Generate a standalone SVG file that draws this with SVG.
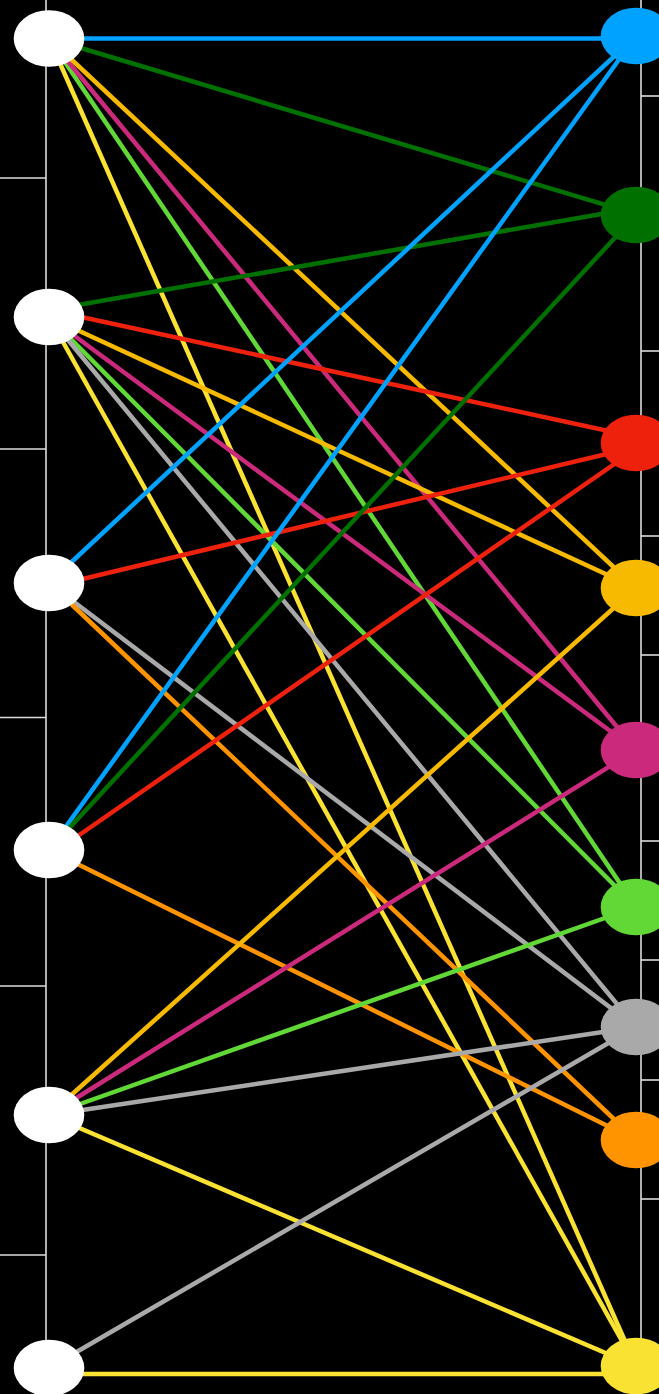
<svg xmlns="http://www.w3.org/2000/svg" width="659" height="1394" viewBox="0 0 659 1394">
<style>
.axis{stroke:#dcdcdc;stroke-width:1.6;fill:none}
.e{stroke-width:4.5;fill:none}
.blue{stroke:#00a2ff}.dgreen{stroke:#007100}.red{stroke:#ee220c}.gold{stroke:#f8ba00}.mag{stroke:#cb297b}.lime{stroke:#61d836}.gray{stroke:#a9a9a9}.orange{stroke:#ff9300}.yellow{stroke:#fae232}
</style>
<rect x="0" y="0" width="659" height="1394" fill="#000"/>
<g id="axes">
<line class="axis" x1="46" y1="0" x2="46" y2="1394"/>
<line class="axis" x1="0" y1="178" x2="46" y2="178"/>
<line class="axis" x1="0" y1="449" x2="46" y2="449"/>
<line class="axis" x1="0" y1="717.5" x2="46" y2="717.5"/>
<line class="axis" x1="0" y1="986" x2="46" y2="986"/>
<line class="axis" x1="0" y1="1255" x2="46" y2="1255"/>
<line class="axis" x1="641" y1="0" x2="641" y2="1394"/>
<line class="axis" x1="641" y1="96" x2="659" y2="96"/>
<line class="axis" x1="641" y1="351" x2="659" y2="351"/>
<line class="axis" x1="641" y1="536" x2="659" y2="536"/>
<line class="axis" x1="641" y1="655" x2="659" y2="655"/>
<line class="axis" x1="641" y1="841" x2="659" y2="841"/>
<line class="axis" x1="641" y1="960" x2="659" y2="960"/>
<line class="axis" x1="641" y1="1080" x2="659" y2="1080"/>
<line class="axis" x1="641" y1="1199" x2="659" y2="1199"/>
</g>
<g id="connectors">
<line class="e blue" x1="49" y1="38.5" x2="636" y2="38.5"/>
<line class="e dgreen" x1="49" y1="38.5" x2="636" y2="214"/>
<line class="e yellow" x1="49" y1="38.5" x2="636" y2="1366"/>
<line class="e lime" x1="49" y1="38.5" x2="636" y2="907"/>
<line class="e mag" x1="49" y1="38.5" x2="636" y2="750"/>
<line class="e gold" x1="49" y1="38.5" x2="636" y2="588"/>
<line class="e dgreen" x1="49" y1="310" x2="636" y2="208"/>
<line class="e red" x1="49" y1="310" x2="636" y2="437"/>
<line class="e gold" x1="49" y1="317" x2="636" y2="588"/>
<line class="e mag" x1="49" y1="317" x2="636" y2="750"/>
<line class="e lime" x1="49" y1="317" x2="636" y2="907"/>
<line class="e gray" x1="49" y1="317" x2="636" y2="1027"/>
<line class="e yellow" x1="49" y1="317" x2="636" y2="1366"/>
<line class="e blue" x1="49" y1="583" x2="636" y2="36"/>
<line class="e red" x1="49" y1="587" x2="636" y2="447"/>
<line class="e gray" x1="49" y1="583" x2="636" y2="1027"/>
<line class="e orange" x1="49" y1="583" x2="636" y2="1140"/>
<line class="e blue" x1="49" y1="850" x2="636" y2="36"/>
<line class="e dgreen" x1="49" y1="850" x2="636" y2="215"/>
<line class="e red" x1="49" y1="856" x2="636" y2="449"/>
<line class="e orange" x1="49" y1="850" x2="636" y2="1140"/>
<line class="e gold" x1="49" y1="1115" x2="636" y2="588"/>
<line class="e mag" x1="49" y1="1115" x2="636" y2="750"/>
<line class="e lime" x1="49" y1="1115" x2="636" y2="907"/>
<line class="e gray" x1="49" y1="1115" x2="636" y2="1027"/>
<line class="e yellow" x1="49" y1="1115" x2="636" y2="1366"/>
<line class="e gray" x1="49" y1="1368" x2="636" y2="1027"/>
<line class="e yellow" x1="49" y1="1374" x2="636" y2="1374"/>
</g>
<g id="L0"><ellipse cx="49" cy="38.5" rx="35.3" ry="28.3" fill="#fff"/></g>
<g id="L1"><ellipse cx="49" cy="317" rx="35.3" ry="28.3" fill="#fff"/></g>
<g id="L2"><ellipse cx="49" cy="583" rx="35.3" ry="28.3" fill="#fff"/></g>
<g id="L3"><ellipse cx="49" cy="850" rx="35.3" ry="28.3" fill="#fff"/></g>
<g id="L4"><ellipse cx="49" cy="1115" rx="35.3" ry="28.3" fill="#fff"/></g>
<g id="L5"><ellipse cx="49" cy="1368" rx="35.3" ry="28.3" fill="#fff"/></g>
<g id="R0"><ellipse cx="636" cy="36" rx="35.3" ry="28.3" fill="#00a2ff"/></g>
<g id="R1"><ellipse cx="636" cy="215" rx="35.3" ry="28.3" fill="#007100"/></g>
<g id="R2"><ellipse cx="636" cy="443" rx="35.3" ry="28.3" fill="#ee220c"/></g>
<g id="R3"><ellipse cx="636" cy="588" rx="35.3" ry="28.3" fill="#f8ba00"/></g>
<g id="R4"><ellipse cx="636" cy="750" rx="35.3" ry="28.3" fill="#cb297b"/></g>
<g id="R5"><ellipse cx="636" cy="907" rx="35.3" ry="28.3" fill="#61d836"/></g>
<g id="R6"><ellipse cx="636" cy="1027" rx="35.3" ry="28.3" fill="#a9a9a9"/></g>
<g id="R7"><ellipse cx="636" cy="1140" rx="35.3" ry="28.3" fill="#ff9300"/></g>
<g id="R8"><ellipse cx="636" cy="1366" rx="35.3" ry="28.3" fill="#fae232"/></g>
</svg>
